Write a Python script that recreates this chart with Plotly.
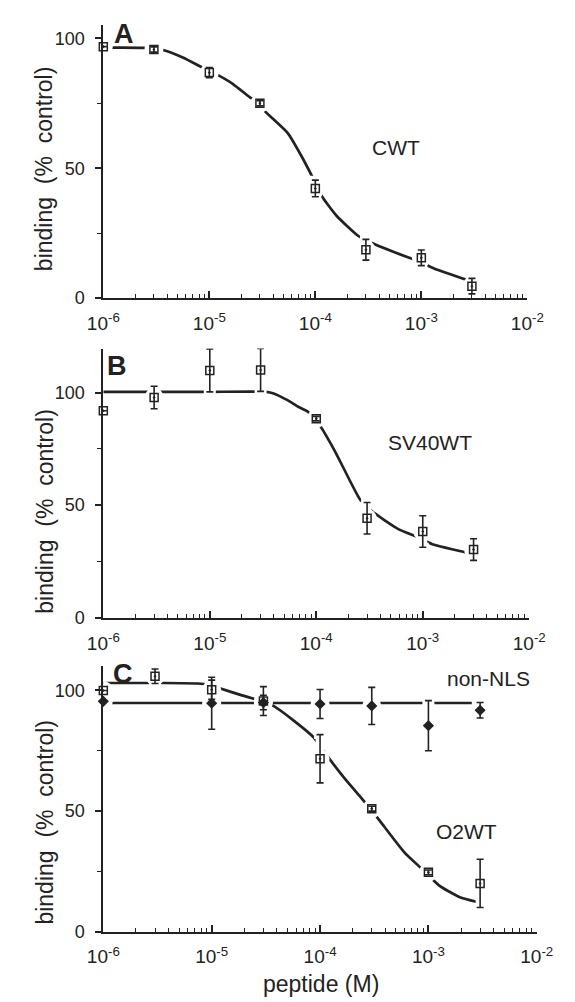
import plotly.graph_objects as go

W, H = 575, 1002

# ---------------- data ----------------
conc = [1e-6, 3e-6, 1e-5, 3e-5, 1e-4, 3e-4, 1e-3, 3e-3]

cwt_y = [96.8, 95.7, 86.8, 75.0, 42.2, 18.6, 15.5, 4.6]
cwt_err = [0, 1.0, 2.0, 1.0, 3.2, 4.0, 3.0, 3.0]
cwt_fit_logx = [-6.0, -5.9, -5.62, -5.42, -5.25, -5.04, -4.94, -4.78, -4.62, -4.55, -4.47,
                -4.26, -4.13, -4.04, -3.94, -3.80, -3.60, -3.45, -3.14, -3.01, -2.88, -2.52]
cwt_fit_y = [96.5, 96.4, 96.3, 95.3, 92.6, 88.2, 86.3, 82.5, 77.4, 75.5, 71.7,
             63.5, 54.6, 47.6, 39.3, 31.7, 24.1, 20.9, 15.9, 14.0, 11.4, 6.3]

sv40_y = [91.9, 97.8, 109.8, 110.0, 88.4, 44.2, 38.3, 30.3]
sv40_err = [0, 5.0, 9.5, 9.5, 1.0, 7.0, 7.0, 4.8]
sv40_fit_logx = [-6.0, -5.0, -4.47, -4.40, -4.27, -4.17, -4.08, -3.96, -3.85, -3.80,
                 -3.69, -3.59, -3.53, -3.48, -3.23, -3.04, -2.91, -2.52]
sv40_fit_y = [100.3, 100.3, 100.3, 99.6, 96.6, 93.7, 91.5, 84.9, 76.1, 71.7,
              61.4, 52.6, 50.0, 47.4, 39.4, 35.7, 32.7, 28.3]

o2_y = [100.0, 105.9, 100.3, 95.6, 71.7, 51.0, 24.6, 20.0]
o2_err = [0, 3.0, 4.0, 6.0, 10.0, 1.0, 1.0, 10.0]
o2_fit_logx = [-6.0, -5.63, -5.44, -5.13, -5.04, -4.94, -4.75, -4.56, -4.43, -4.24, -4.06,
               -3.95, -3.76, -3.63, -3.54, -3.41, -3.22, -3.06, -2.90, -2.71, -2.55]
o2_fit_y = [103.1, 103.1, 103.1, 102.9, 102.5, 101.1, 98.4, 95.9, 93.6, 87.4, 80.6,
            73.8, 62.8, 56.0, 51.2, 43.7, 32.8, 26.0, 19.1, 14.3, 12.3]

nonnls_conc = [1e-6, 1e-5, 3e-5, 1e-4, 3e-4, 1e-3, 3e-3]
nonnls_y = [95.5, 94.7, 95.0, 94.4, 93.6, 85.4, 91.8]
nonnls_err = [0, 10.8, 3.0, 6.0, 7.7, 10.4, 3.2]
nonnls_fit_logx = [-6.0, -2.6]
nonnls_fit_y = [94.8, 94.8]

x_tickvals = [1e-6, 1e-5, 1e-4, 1e-3, 1e-2]
x_ticktext = ["10<sup>-6</sup>", "10<sup>-5</sup>", "10<sup>-4</sup>", "10<sup>-3</sup>", "10<sup>-2</sup>"]
y_tickvals = [0, 50, 100]
y_minorvals = [25, 75]
x_minorvals = [m * d for d in [1e-6, 1e-5, 1e-4, 1e-3] for m in range(2, 10)]

# ---------------- style ----------------
INK = "#222222"
FONT = "Liberation Sans, Arial, Helvetica, sans-serif"

fig = go.Figure()

def to_x(logs):
    return [10 ** v for v in logs]

def add_curve(ax, logx, ys):
    xa, ya = ax
    fig.add_trace(go.Scatter(x=to_x(logx), y=ys, mode="lines",
                             line=dict(color=INK, width=2.7, shape="spline", smoothing=0.5),
                             xaxis=xa, yaxis=ya, hoverinfo="skip", showlegend=False))

def add_halo(ax, xs, ys, err):
    xa, ya = ax
    fig.add_trace(go.Scatter(x=xs, y=ys, mode="markers",
                             marker=dict(symbol="circle", size=19, color="white"),
                             error_y=dict(type="data", array=err, visible=True,
                                          color="white", thickness=9, width=6),
                             xaxis=xa, yaxis=ya, hoverinfo="skip", showlegend=False))

def add_points(ax, xs, ys, err, symbol, size):
    xa, ya = ax
    fig.add_trace(go.Scatter(x=xs, y=ys, mode="markers",
                             marker=dict(symbol=symbol, size=size, color=INK,
                                         line=dict(color=INK, width=1.5)),
                             error_y=dict(type="data", array=err, visible=True,
                                          color=INK, thickness=1.6, width=3.5),
                             xaxis=xa, yaxis=ya, cliponaxis=False,
                             hoverinfo="skip", showlegend=False))

# panel A
axA = ("x", "y")
add_curve(axA, cwt_fit_logx, cwt_fit_y)
add_halo(axA, conc, cwt_y, cwt_err)
add_points(axA, conc, cwt_y, cwt_err, "square-open-dot", 8)

# panel B
axB = ("x2", "y2")
add_curve(axB, sv40_fit_logx, sv40_fit_y)
add_halo(axB, conc, sv40_y, sv40_err)
add_points(axB, conc, sv40_y, sv40_err, "square-open-dot", 8)

# panel C
axC = ("x3", "y3")
add_curve(axC, o2_fit_logx, o2_fit_y)
add_curve(axC, nonnls_fit_logx, nonnls_fit_y)
add_halo(axC, conc, o2_y, o2_err)
add_halo(axC, nonnls_conc, nonnls_y, nonnls_err)
add_points(axC, nonnls_conc, nonnls_y, nonnls_err, "diamond", 7)
add_points(axC, conc, o2_y, o2_err, "square-open-dot", 8)

# ---------------- axes ----------------
panels = [
    # (x_left_px, x_right_px, y_top_px, y_bottom_px, ymax)
    (84, 533, 17, 293, 105.2),
    (84, 535, 344, 616, 119.5),
    (84, 543, 665, 933, 110.0),
]

layout_axes = {}
for i, (xl, xr, yt, yb, ymax) in enumerate(panels):
    sfx = "" if i == 0 else str(i + 1)
    layout_axes["xaxis" + sfx] = dict(
        type="log", range=[-6, -2], domain=[xl / W, xr / W],
        anchor="y" + sfx, showline=True, linecolor=INK, linewidth=2,
        ticks="inside", ticklen=7, tickwidth=1.6, tickcolor=INK,
        tickmode="array", tickvals=x_tickvals, ticktext=x_ticktext,
        tickfont=dict(family=FONT, size=19, color=INK), ticklabelstandoff=7,
        minor=dict(tickmode="array", tickvals=x_minorvals, ticks="inside",
                   ticklen=4, tickwidth=1.3, tickcolor=INK, showgrid=False),
        showgrid=False, zeroline=False, fixedrange=True,
    )
    layout_axes["yaxis" + sfx] = dict(
        range=[0, ymax], domain=[1 - yb / H, 1 - yt / H],
        anchor="x" + sfx, showline=True, linecolor=INK, linewidth=2,
        ticks="outside", ticklen=6, tickwidth=1.6, tickcolor=INK,
        tickmode="array", tickvals=y_tickvals,
        tickfont=dict(family=FONT, size=18, color=INK), ticklabelstandoff=7,
        minor=dict(tickmode="array", tickvals=y_minorvals, ticks="outside",
                   ticklen=4, tickwidth=1.3, tickcolor=INK, showgrid=False),
        showgrid=False, zeroline=False, fixedrange=True,
    )

# ---------------- text ----------------
ann = []
ytitle = "binding\u00a0\u00a0(%\u00a0\u00a0control)"
for ycen in [162, 508, 822]:
    ann.append(dict(text=ytitle, xref="paper", yref="paper", x=22 / W, y=1 - ycen / H,
                    textangle=-90, showarrow=False, xanchor="center", yanchor="middle",
                    font=dict(family=FONT, size=23, color=INK)))

for letter, (px, py) in zip(["A", "B", "C"], [(106, 26), (99, 362), (105, 673)]):
    ann.append(dict(text="<b>" + letter + "</b>", xref="paper", yref="paper",
                    x=px / W, y=1 - py / H, showarrow=False,
                    xanchor="center", yanchor="middle",
                    font=dict(family=FONT, size=27, color=INK)))

for label, (px, py) in zip(["CWT", "SV40WT", "non-NLS", "O2WT"],
                           [(394, 141), (430, 439), (492, 677), (469, 832)]):
    ann.append(dict(text=label, xref="paper", yref="paper", x=px / W, y=1 - py / H,
                    showarrow=False, xanchor="center", yanchor="middle",
                    font=dict(family=FONT, size=21, color=INK)))

ann.append(dict(text="peptide (M)", xref="paper", yref="paper", x=314 / W, y=1 - 986 / H,
                showarrow=False, xanchor="center", yanchor="middle",
                font=dict(family=FONT, size=23, color=INK)))

fig.update_layout(
    width=W, height=H, margin=dict(l=0, r=0, t=0, b=0),
    paper_bgcolor="white", plot_bgcolor="white",
    showlegend=False, annotations=ann, **layout_axes,
)

fig.write_html("out.html")
